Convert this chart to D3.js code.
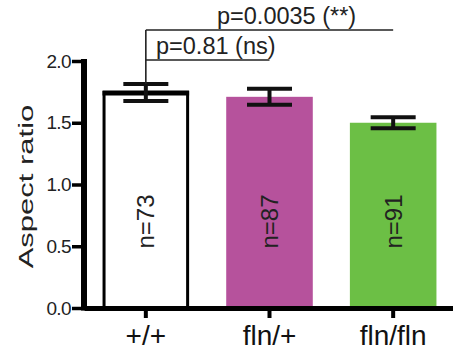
<!DOCTYPE html>
<html>
<head>
<meta charset="utf-8">
<script src="https://cdn.jsdelivr.net/npm/d3@7"></script>
<style>
  body { margin: 0; background: #fff; }
  svg { display: block; font-family: "Liberation Sans", Arial, sans-serif; }
</style>
</head>
<body>
<svg id="chart"></svg>
<script>
const width = 453;
const height = 355;

// data
const groups = ["+/+", "fln/+", "fln/fln"];
const means = [1.745, 1.71, 1.50];
const sems = [0.068, 0.065, 0.045];
const counts = [73, 87, 91];
const yTicks = [0, 0.5, 1.0, 1.5, 2.0];
const compFrom = ["+/+", "+/+"];
const compTo = ["fln/+", "fln/fln"];
const compLabels = ["p=0.81 (ns)", "p=0.0035 (**)"];

const barFill = ["#ffffff", "#b6529c", "#6cbf45"];
const barStroke = ["#000", "none", "none"];

const svg = d3.select("#chart")
    .attr("width", width)
    .attr("height", height);

const x = d3.scaleBand()
    .domain(groups)
    .range([84, 455])
    .paddingInner(0.3)
    .paddingOuter(0.15);

const y = d3.scaleLinear()
    .domain([0, 2])
    .range([308, 61]);

const cx = g => x(g) + x.bandwidth() / 2;

// bars
svg.append("g")
    .selectAll("rect")
    .data(groups)
    .enter().append("rect")
    .attr("x", (d, i) => x(d) + (i === 0 ? 1.5 : 0))
    .attr("width", (d, i) => x.bandwidth() - (i === 0 ? 3 : 0))
    .attr("y", (d, i) => y(means[i]))
    .attr("height", (d, i) => y(0) - y(means[i]))
    .attr("fill", (d, i) => barFill[i])
    .attr("stroke", (d, i) => barStroke[i])
    .attr("stroke-width", 3);

// thicker mean line on the outlined bar
svg.append("line")
    .attr("x1", x(groups[0]))
    .attr("x2", x(groups[0]) + x.bandwidth())
    .attr("y1", y(means[0]) + 0.5)
    .attr("y2", y(means[0]) + 0.5)
    .attr("stroke", "#000")
    .attr("stroke-width", 5);

// error bars
const capW = 45;
const err = svg.append("g")
    .attr("stroke", "#111")
    .attr("stroke-width", 4);
groups.forEach((g, i) => {
    const c = cx(g);
    err.append("line")
        .attr("x1", c).attr("x2", c)
        .attr("y1", y(means[i] + sems[i])).attr("y2", y(means[i] - sems[i]));
    [means[i] + sems[i], means[i] - sems[i]].forEach(v => {
        err.append("line")
            .attr("x1", c - capW / 2).attr("x2", c + capW / 2)
            .attr("y1", y(v)).attr("y2", y(v));
    });
});

// n labels
svg.append("g")
    .selectAll("text")
    .data(groups)
    .enter().append("text")
    .attr("transform", d => `translate(${cx(d)},${y(0.7)}) rotate(-90)`)
    .attr("text-anchor", "middle")
    .attr("dy", "0.35em")
    .attr("font-size", 24)
    .attr("fill", "#222")
    .text((d, i) => `n=${counts[i]}`);

// y axis
const yAxis = svg.append("g")
    .attr("transform", "translate(84,0)")
    .call(d3.axisLeft(y)
        .tickValues(yTicks)
        .tickFormat(d3.format(".1f"))
        .tickSize(12)
        .tickSizeOuter(0)
        .tickPadding(1));
yAxis.select(".domain").attr("stroke", "#000").attr("stroke-width", 6)
    .attr("d", `M0,${y(0) + 2.5}V${y(2) - 2}`);
yAxis.selectAll(".tick line").attr("stroke", "#000").attr("stroke-width", 3.5);
yAxis.selectAll(".tick text")
    .attr("font-size", 19)
    .attr("letter-spacing", -0.6)
    .attr("fill", "#222");

// x axis
const xAxis = svg.append("g")
    .attr("transform", `translate(0,${y(0)})`)
    .call(d3.axisBottom(x).tickSize(10).tickSizeOuter(0));
xAxis.select(".domain").attr("stroke", "#000").attr("stroke-width", 5);
xAxis.selectAll(".tick line").attr("stroke", "#000").attr("stroke-width", 4);
xAxis.selectAll(".tick text")
    .attr("y", 37)
    .attr("dy", 0)
    .attr("font-size", 28)
    .attr("fill", "#111");

// y axis title
svg.append("text")
    .attr("transform", `translate(33,${(y(0) + y(2)) / 2 + 2}) rotate(-90) scale(1,0.68)`)
    .attr("text-anchor", "middle")
    .attr("font-size", 31)
    .attr("fill", "#222")
    .text("Aspect ratio");

// significance brackets
const bracketY = [60, 30];
const labelX = [156, 217];
const br = svg.append("g");
br.append("line")
    .attr("x1", cx(compFrom[0])).attr("x2", cx(compFrom[0]))
    .attr("y1", bracketY[1]).attr("y2", y(means[0] + sems[0]))
    .attr("stroke", "#222").attr("stroke-width", 1.6);
compLabels.forEach((label, i) => {
    br.append("line")
        .attr("x1", cx(compFrom[i])).attr("x2", cx(compTo[i]))
        .attr("y1", bracketY[i]).attr("y2", bracketY[i])
        .attr("stroke", "#222").attr("stroke-width", 1.6);
    br.append("text")
        .attr("x", labelX[i])
        .attr("y", bracketY[i] - 6)
        .attr("font-size", 23.5)
        .attr("fill", "#222")
        .text(label);
});
</script>
</body>
</html>
